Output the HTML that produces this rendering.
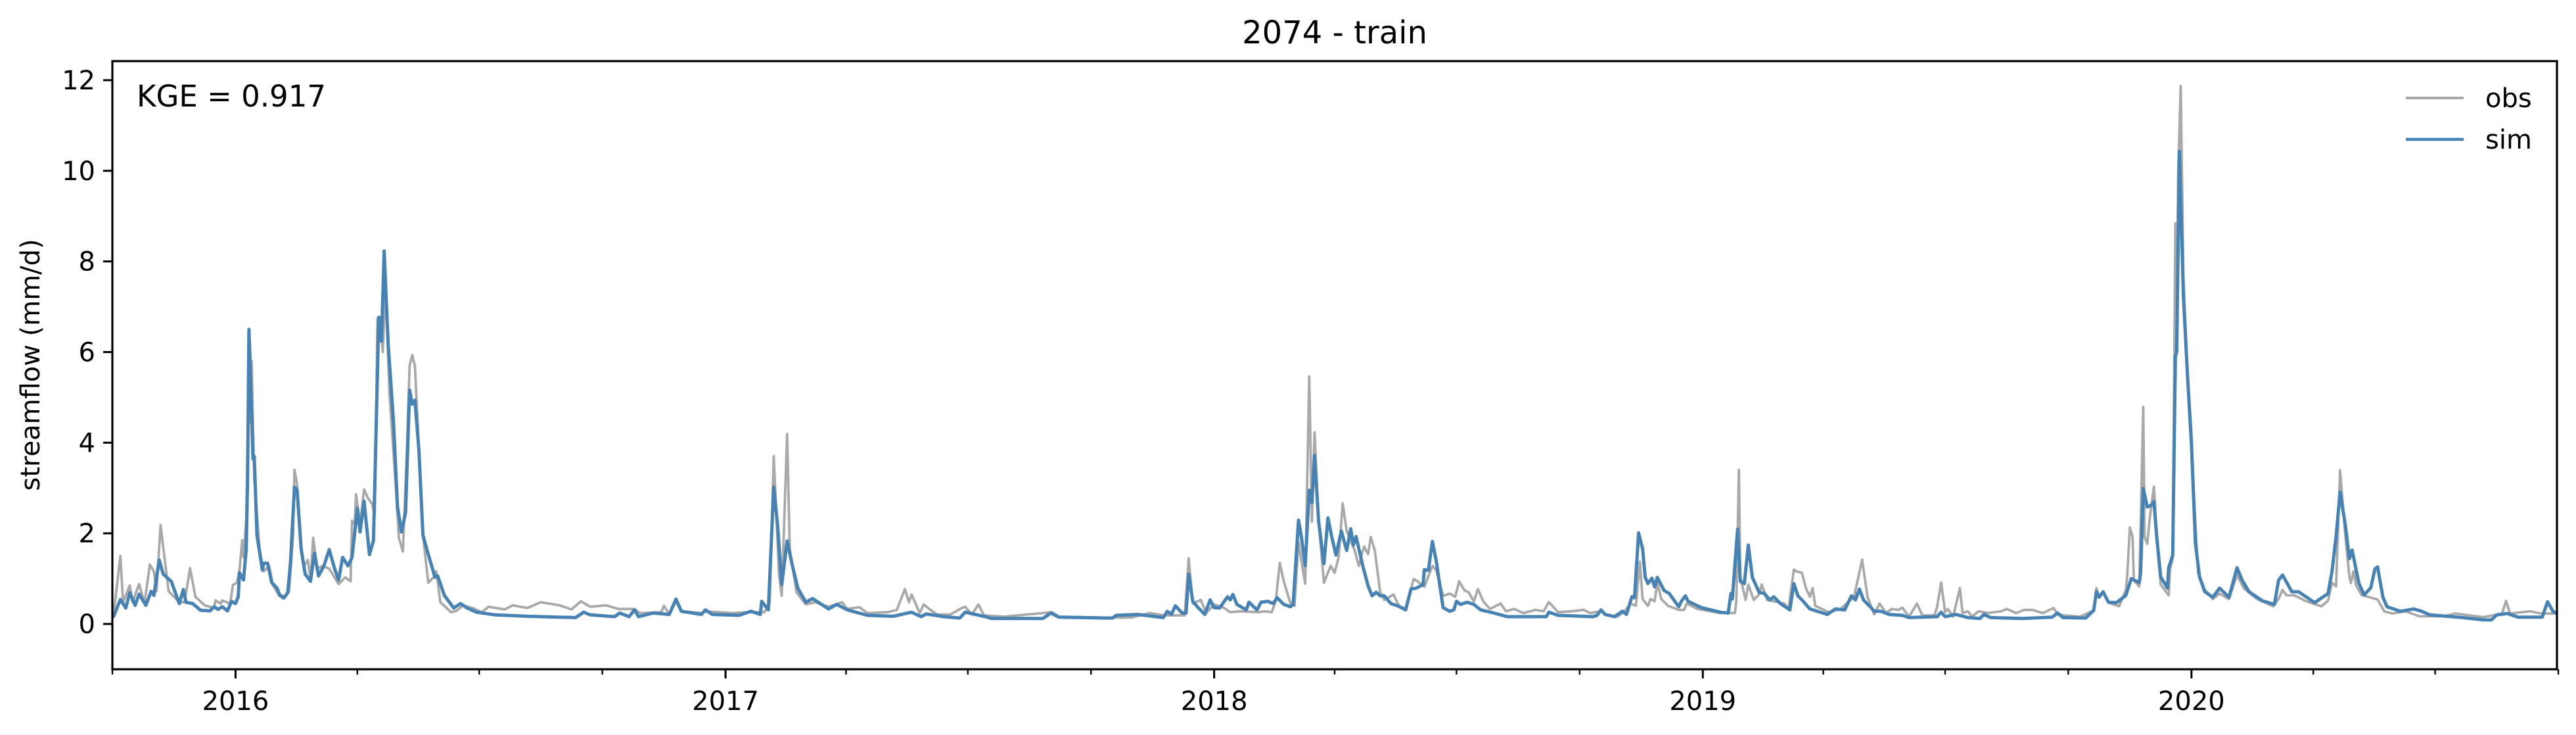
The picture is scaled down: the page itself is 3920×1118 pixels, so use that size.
<!DOCTYPE html>
<html><head><meta charset="utf-8"><style>
html,body{margin:0;padding:0;background:#fff;}
svg{display:block;font-family:"DejaVu Sans","Liberation Sans",sans-serif;}
</style></head><body>
<svg id="chart" width="3920" height="1118" viewBox="0 0 3920 1118" xmlns="http://www.w3.org/2000/svg">
<rect x="0" y="0" width="3920" height="1118" fill="#fff"/>
<text x="2031" y="66" text-anchor="middle" font-size="48" fill="#000">2074 - train</text>
<text transform="translate(60,555) rotate(-90)" text-anchor="middle" font-size="40" fill="#000">streamflow (mm/d)</text>
<g id="plot"></g>
<g id="axes"></g>
<text x="208" y="162" font-size="45" fill="#000">KGE = 0.917</text>
<g>
<line x1="3661" y1="149" x2="3749" y2="149" stroke="#a9a9a9" stroke-width="4"/>
<text x="3782" y="163" font-size="40" fill="#000">obs</text>
<line x1="3661" y1="212" x2="3749" y2="212" stroke="#4682b4" stroke-width="4.5"/>
<text x="3782" y="226" font-size="40" fill="#000">sim</text>
</g>
</svg>
<script>
const startDate = "2015-10-01";
const endDate = "2020-10-01";
const yTicks = [0, 2, 4, 6, 8, 10, 12];
const yTickLabels = ["0", "2", "4", "6", "8", "10", "12"];
const yDomain = [-1.0, 12.42];
const xYearTicks = ["2016-01-01", "2017-01-01", "2018-01-01", "2019-01-01", "2020-01-01"];
const xYearLabels = ["2016", "2017", "2018", "2019", "2020"];
const xMinorTicks = ["2015-10-01","2016-04-01","2016-07-01","2016-10-01","2017-04-01","2017-07-01","2017-10-01","2018-04-01","2018-07-01","2018-10-01","2019-04-01","2019-07-01","2019-10-01","2020-04-01","2020-07-01","2020-10-01"];

// day offsets since startDate, and values (mm/d)
const obsDays = [0,1,6,8,13,15,20,24,28,31,33,36,42,50,54,58,62,69,76,77,81,82,88,90,93,95,97,98,100,102,103,104,106,110,113,117,120,124,129,132,135,136,138,141,143,146,148,150,153,157,162,169,174,178,179,181,182,185,188,191,194,196,198,201,202,204,207,212,214,217,220,222,224,226,229,232,236,240,242,245,253,257,262,269,276,281,293,299,310,320,334,343,350,357,369,
378,390,394,410,412,416,421,425,440,443,463,475,487,491,494,498,500,504,506,511,518,525,535,545,549,558,564,579,586,592,595,597,603,606,611,616,626,635,637,642,647,651,666,702,707,742,
761,775,785,801,804,807,813,817,823,830,835,842,856,861,866,869,872,875,880,883,886,888,891,894,896,898,901,905,910,913,916,919,922,928,931,935,938,940,943,947,950,957,961,966,972,975,980,986,989,994,999,1003,1006,1010,1013,1017,1020,1024,1029,1037,1041,1047,1054,1063,1069,1073,1080,1090,1099,1104,
1112,1115,1124,1129,1134,1138,1141,1143,1147,1149,1152,1154,1157,1162,1170,1174,1176,1184,1201,1212,1213,1215,1216,1220,1222,1226,1230,1232,1236,1249,1252,1256,1258,1262,1265,1268,1270,1272,1282,1291,1301,1307,1311,1316,1320,1325,1329,1334,1337,1342,1348,1352,1361,1363,1366,1369,1371,1375,1380,1382,1386,1389,1394,1401,1411,1415,1422,1428,1434,1442,1450,1453,1458,1470,
1480,1482,1484,1487,1491,1499,1504,1505,1507,1509,1510,1514,1517,1518,1520,1522,1525,1527,1530,1536,1537,1539,1541,1542,1543,1545,1547,1550,1553,1555,1558,1563,1569,1574,1581,1587,1592,1602,1614,1618,1621,1624,1630,1638,1650,1655,1658,1661,1664,1668,1671,1672,1674,1676,1680,1686,1692,1697,1703,1713,1723,1742,1750,1771,1785,1788,1791,1806,1814,1826];
const obsValues = [0.23,0.23,1.5,0.48,0.85,0.48,0.88,0.45,1.31,1.16,0.72,2.18,0.72,0.48,0.48,1.23,0.6,0.41,0.35,0.52,0.45,0.52,0.45,0.86,0.91,1.19,1.85,1.47,2.28,5.7,4.45,5.8,3.2,1.65,1.16,1.28,0.85,0.66,0.6,0.72,1.96,3.4,3.08,1.72,1.28,1.41,0.97,1.9,1.22,1.28,1.22,0.88,1.03,0.94,2.28,2.2,2.86,2.2,2.97,2.77,2.65,2.4,6.74,6.3,6.0,7.5,5.07,2.9,1.9,1.6,3.83,5.7,5.93,5.7,3.83,1.96,0.91,1.03,1.16,0.48,0.26,0.29,0.41,0.35,0.26,0.38,0.32,0.41,0.35,0.48,0.41,0.32,0.5,0.38,0.41,
0.33,0.33,0.24,0.26,0.4,0.21,0.5,0.28,0.24,0.28,0.24,0.26,0.26,0.45,3.7,1.08,0.62,4.19,1.66,0.7,0.43,0.48,0.38,0.48,0.33,0.37,0.24,0.26,0.31,0.77,0.48,0.65,0.24,0.43,0.31,0.21,0.21,0.36,0.38,0.21,0.43,0.19,0.16,0.26,0.16,0.14,
0.14,0.24,0.19,0.19,1.45,0.45,0.53,0.24,0.43,0.36,0.26,0.28,0.26,0.28,0.26,0.5,1.35,0.94,0.45,0.4,1.81,1.42,0.89,5.46,2.26,4.23,2.26,0.91,1.28,1.13,1.47,2.66,2.05,1.62,1.28,1.71,1.54,1.92,1.62,0.7,0.53,0.65,0.4,0.33,0.99,0.94,0.82,1.28,1.18,0.62,0.67,0.6,0.94,0.74,0.7,0.5,0.77,0.5,0.33,0.45,0.28,0.33,0.24,0.31,0.28,0.48,0.26,0.28,0.31,0.24,
0.28,0.21,0.16,0.26,0.45,0.4,1.37,0.55,0.4,0.55,0.5,0.91,0.55,0.4,0.31,0.31,0.45,0.33,0.24,0.24,0.5,3.4,1.03,0.53,0.87,0.53,0.65,0.87,0.53,0.45,0.33,1.2,1.16,1.13,0.79,0.6,0.79,0.4,0.26,0.33,0.6,1.42,0.6,0.21,0.45,0.24,0.33,0.31,0.36,0.16,0.45,0.19,0.19,0.38,0.91,0.26,0.33,0.16,0.79,0.24,0.28,0.16,0.28,0.24,0.28,0.33,0.24,0.31,0.31,0.24,0.35,0.21,0.19,0.16,
0.3,0.79,0.59,0.71,0.47,0.39,0.75,1.04,2.13,1.93,0.96,0.83,4.79,1.93,1.77,2.38,3.03,1.93,0.87,0.63,1.2,1.44,8.84,6.0,9.9,11.87,7.62,5.59,4.21,2.74,1.12,0.75,0.55,0.67,0.55,1.08,0.79,0.55,0.39,0.55,0.75,0.63,0.63,0.51,0.39,0.51,0.91,0.83,3.39,1.93,1.04,0.9,1.16,0.85,0.64,0.59,0.54,0.28,0.23,0.28,0.17,0.17,0.23,0.15,0.23,0.51,0.23,0.28,0.23,0.23];

const simDays = [0,1,6,10,13,17,20,25,29,31,35,38,44,50,53,55,60,66,73,76,79,82,86,89,92,94,95,98,100,101,102,103,105,106,108,112,113,116,119,123,125,128,131,133,136,138,141,144,148,151,154,158,162,166,169,172,176,179,183,185,188,192,195,199,201,203,206,210,213,216,219,222,224,226,229,232,236,241,243,248,255,260,265,272,286,310,334,346,352,357,
375,379,386,390,393,404,416,421,425,440,443,448,468,477,484,485,490,494,497,500,504,508,512,518,523,535,541,549,564,583,591,597,604,608,621,633,637,652,657,695,701,707,742,
747,750,766,785,788,791,794,799,802,804,807,811,816,820,823,827,833,835,837,840,847,849,855,858,863,867,870,875,880,882,886,888,891,894,896,898,901,905,908,911,914,918,922,925,927,929,934,938,941,944,947,950,955,960,966,970,974,979,980,983,986,989,994,999,1002,1004,1007,1012,1017,1022,1032,1042,1056,1071,1073,1080,1106,
1109,1112,1115,1122,1128,1131,1135,1137,1140,1143,1145,1147,1150,1152,1154,1159,1163,1170,1172,1175,1177,1187,1201,1207,1209,1210,1214,1216,1219,1222,1225,1230,1234,1238,1241,1246,1253,1256,1259,1263,1268,1281,1287,1294,1299,1302,1305,1308,1313,1316,1321,1327,1337,1342,1363,1366,1369,1377,1386,1395,1398,1403,1427,1449,1453,1457,1474,
1480,1482,1484,1487,1491,1497,1504,1508,1514,1515,1517,1520,1523,1525,1527,1530,1535,1536,1539,1541,1542,1544,1547,1550,1553,1556,1559,1563,1569,1574,1581,1584,1587,1591,1596,1606,1615,1618,1621,1628,1633,1645,1651,1655,1658,1661,1664,1668,1671,1673,1678,1682,1687,1690,1692,1696,1699,1709,1719,1725,1731,1752,1771,1777,1781,1789,1797,1815,1819,1823,1826];
const simValues = [0.17,0.17,0.54,0.35,0.69,0.41,0.66,0.41,0.72,0.63,1.41,1.1,0.94,0.45,0.76,0.48,0.45,0.3,0.29,0.38,0.32,0.38,0.29,0.5,0.45,0.6,1.13,0.97,1.65,3.2,6.5,5.7,3.64,3.7,1.96,1.19,1.34,1.34,0.91,0.79,0.63,0.57,0.69,1.34,3.02,2.96,1.65,1.1,0.94,1.56,1.06,1.28,1.64,1.22,0.97,1.47,1.28,1.47,2.55,2.03,2.71,1.53,1.84,6.77,6.24,8.23,6.18,4.45,2.58,2.03,2.46,5.16,4.85,4.94,3.83,1.96,1.53,1.03,1.06,0.63,0.35,0.45,0.35,0.26,0.2,0.17,0.15,0.14,0.26,0.2,
0.16,0.24,0.16,0.31,0.16,0.24,0.21,0.55,0.28,0.21,0.31,0.21,0.19,0.28,0.21,0.5,0.31,3.02,2.15,0.87,1.83,1.28,0.79,0.48,0.56,0.33,0.43,0.31,0.19,0.17,0.22,0.26,0.16,0.22,0.16,0.13,0.26,0.16,0.12,0.12,0.24,0.15,0.13,
0.13,0.19,0.21,0.14,0.28,0.21,0.4,0.24,0.24,1.1,0.5,0.36,0.21,0.53,0.36,0.35,0.6,0.53,0.65,0.43,0.31,0.48,0.31,0.48,0.5,0.45,0.58,0.43,0.38,0.43,2.29,1.95,1.28,2.95,2.68,3.72,2.26,1.33,2.34,1.9,1.52,2.05,1.62,2.1,1.74,1.93,1.28,0.84,0.62,0.7,0.62,0.62,0.45,0.4,0.31,0.77,0.79,0.87,1.2,1.18,1.82,1.37,0.36,0.28,0.31,0.5,0.43,0.48,0.43,0.31,0.24,0.16,0.16,0.16,0.26,0.19,0.16,
0.19,0.31,0.21,0.16,0.28,0.21,0.6,0.58,2.01,1.66,1.03,0.89,1.01,0.82,1.03,0.74,0.67,0.38,0.5,0.62,0.5,0.36,0.26,0.24,0.67,0.55,2.09,0.94,0.89,1.74,1.03,0.7,0.67,0.53,0.6,0.45,0.31,0.89,0.62,0.5,0.33,0.21,0.33,0.31,0.62,0.53,0.77,0.53,0.38,0.28,0.28,0.21,0.19,0.14,0.16,0.26,0.16,0.21,0.14,0.12,0.21,0.14,0.12,0.15,0.24,0.14,0.13,
0.3,0.71,0.59,0.71,0.48,0.47,0.63,1.0,0.91,1.12,2.99,2.58,2.62,2.7,1.93,1.04,0.79,1.24,1.52,5.91,6.0,10.43,7.22,5.51,3.96,1.77,1.04,0.71,0.59,0.79,0.59,0.91,1.24,0.96,0.71,0.51,0.43,0.96,1.08,0.71,0.71,0.47,0.59,0.67,1.16,1.93,2.91,2.17,1.44,1.63,0.9,0.64,0.8,1.21,1.26,0.59,0.38,0.28,0.33,0.28,0.2,0.15,0.09,0.09,0.2,0.23,0.15,0.15,0.49,0.28,0.23];

const NS = "http://www.w3.org/2000/svg";
const L = 171, R = 3891, T = 93, B = 1018;
const DAY = 86400000;
const t0 = Date.parse(startDate), t1 = Date.parse(endDate);
const totalDays = (t1 - t0) / DAY - 1;
function xDay(d){ return L + d / totalDays * (R - L); }
function xDate(s){ return xDay((Date.parse(s) - t0) / DAY); }
function yVal(v){ return B - (v - yDomain[0]) / (yDomain[1] - yDomain[0]) * (B - T); }

const plot = document.getElementById('plot');
const axes = document.getElementById('axes');
function mk(tag, attrs, parent){
  const e = document.createElementNS(NS, tag);
  for (const k in attrs) e.setAttribute(k, attrs[k]);
  parent.appendChild(e);
  return e;
}
function pathFor(days, vals){
  let d = "";
  for (let i = 0; i < days.length; i++) d += (i ? "L" : "M") + xDay(days[i]).toFixed(1) + "," + yVal(vals[i]).toFixed(1);
  return d;
}
const clip = mk('clipPath', {id:'clipArea'}, plot);
mk('rect', {x:L, y:T, width:R-L, height:B-T}, clip);

const obsLine = mk('path', {d: pathFor(obsDays, obsValues), fill:'none', stroke:'#a9a9a9', 'stroke-width':3.8, 'stroke-linejoin':'round', 'clip-path':'url(#clipArea)'}, plot);


const simLine = mk('path', {d: pathFor(simDays, simValues), fill:'none', stroke:'#4682b4', 'stroke-width':5, 'stroke-linejoin':'round', 'clip-path':'url(#clipArea)'}, plot);



yTicks.forEach((v, i) => {
  const y = yVal(v);
  const tk = mk('line', {x1:L-14, y1:y, x2:L, y2:y, stroke:'#000', 'stroke-width':3}, axes);
  
  
  const lb = mk('text', {x:L-26, y:y+14, 'text-anchor':'end', 'font-size':40, fill:'#000'}, axes);
  lb.textContent = yTickLabels[i];
  
  
});
xMinorTicks.forEach(s => {
  const x = xDate(s);
  const tk = mk('line', {x1:x, y1:B, x2:x, y2:B+8, stroke:'#000', 'stroke-width':2.4}, axes);
  
  
});
xYearTicks.forEach((s, i) => {
  const x = xDate(s);
  const tk = mk('line', {x1:x, y1:B, x2:x, y2:B+14, stroke:'#000', 'stroke-width':3}, axes);
  
  
  const lb = mk('text', {x:x, y:B+62, 'text-anchor':'middle', 'font-size':40, fill:'#000'}, axes);
  lb.textContent = xYearLabels[i];
  
  
});
const frame = mk('rect', {x:L, y:T, width:R-L, height:B-T, fill:'none', stroke:'#000', 'stroke-width':3.2}, axes);


</script>
</body></html>
